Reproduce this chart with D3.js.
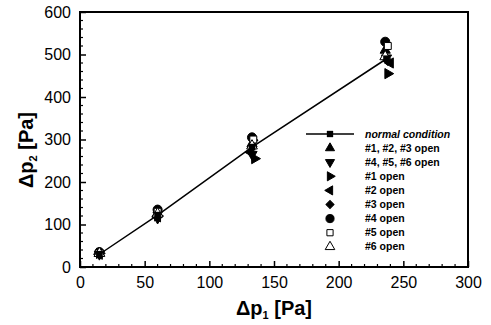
<!DOCTYPE html>
<html>
<head>
<meta charset="utf-8">
<script src="https://cdn.jsdelivr.net/npm/d3@7"></script>
<style>
  body { margin: 0; background: #fff; }
  svg { display: block; font-family: "Liberation Sans", Arial, sans-serif; }
</style>
</head>
<body>
<svg id="chart" width="491" height="325"></svg>
<script>
// data
const dp1Normal = [15, 60, 133, 237];
const dp2Normal = [30, 122, 282, 490];

const seriesNames = ['#1, #2, #3 open', '#4, #5, #6 open', '#1 open', '#2 open',
  '#3 open', '#4 open', '#5 open', '#6 open'];
const seriesX = [
  [15, 60, 133, 236],
  [15, 60, 133, 237],
  [15, 60, 135, 238],
  [15, 60, 132, 240],
  [15, 60, 134, 238],
  [15, 60, 133, 236],
  [15, 60, 134, 238],
  [15, 60, 133, 236]
];
const seriesY = [
  [33, 125, 290, 510],
  [30, 115, 265, 492],
  [32, 120, 255, 455],
  [30, 118, 270, 480],
  [33, 128, 298, 485],
  [35, 135, 305, 530],
  [33, 130, 300, 520],
  [32, 125, 285, 495]
];
const xTicks = [0, 50, 100, 150, 200, 250, 300];
const yTicks = [0, 100, 200, 300, 400, 500, 600];

const svg = d3.select('#chart');
const m = { left: 80, right: 468, top: 12, bottom: 267 };

const x = d3.scaleLinear().domain([0, 300]).range([m.left, m.right]);
const y = d3.scaleLinear().domain([0, 600]).range([m.bottom, m.top]);

// marker shapes
const shapes = [
  { type: d3.symbolTriangle, fill: '#000', rot: 0 },
  { type: d3.symbolTriangle, fill: '#000', rot: 180 },
  { type: d3.symbolTriangle, fill: '#000', rot: 90 },
  { type: d3.symbolTriangle, fill: '#000', rot: -90 },
  { type: d3.symbolSquare, fill: '#000', rot: 45 },
  { type: d3.symbolCircle, fill: '#000', rot: 0 },
  { type: d3.symbolSquare, fill: '#fff', rot: 0 },
  { type: d3.symbolTriangle, fill: '#fff', rot: 0 }
];
const sizes = [45, 45, 45, 45, 40, 65, 48, 50];

// axes (ticks inward)
const xAxis = d3.axisBottom(x).tickValues(xTicks).tickSize(-6).tickPadding(10);
const yAxis = d3.axisLeft(y).tickValues(yTicks).tickSize(-6).tickPadding(9);

const gx = svg.append('g').attr('transform', `translate(0,${m.bottom})`).call(xAxis);
const gy = svg.append('g').attr('transform', `translate(${m.left},0)`).call(yAxis);
[gx, gy].forEach(g => {
  g.select('.domain').remove();
  g.selectAll('line').attr('stroke', '#000').attr('stroke-width', 1.5);
  g.selectAll('text').attr('fill', '#000').style('font-size', '16px');
});

// minor ticks
svg.append('g').selectAll('line')
  .data(d3.range(10, 300, 10).filter(v => v % 50 !== 0))
  .enter().append('line')
  .attr('x1', d => x(d)).attr('x2', d => x(d))
  .attr('y1', m.bottom).attr('y2', m.bottom - 3)
  .attr('stroke', '#000').attr('stroke-width', 1.2);
svg.append('g').selectAll('line')
  .data(d3.range(20, 600, 20).filter(v => v % 100 !== 0))
  .enter().append('line')
  .attr('x1', m.left).attr('x2', m.left + 3)
  .attr('y1', d => y(d)).attr('y2', d => y(d))
  .attr('stroke', '#000').attr('stroke-width', 1.2);

// frame
svg.append('rect')
  .attr('x', m.left).attr('y', m.top)
  .attr('width', m.right - m.left).attr('height', m.bottom - m.top)
  .attr('fill', 'none').attr('stroke', '#000').attr('stroke-width', 2);

// normal condition line
svg.append('path')
  .datum(d3.zip(dp1Normal, dp2Normal))
  .attr('d', d3.line().x(d => x(d[0])).y(d => y(d[1])))
  .attr('fill', 'none').attr('stroke', '#000').attr('stroke-width', 1.5);

const sym = d3.symbol();

seriesNames.forEach((name, i) => {
  const s = shapes[i];
  svg.append('g').selectAll('path')
    .data(d3.zip(seriesX[i], seriesY[i]))
    .enter().append('path')
    .attr('d', sym.type(s.type).size(sizes[i])())
    .attr('transform', d => `translate(${x(d[0])},${y(d[1])}) rotate(${s.rot})`)
    .attr('fill', s.fill).attr('stroke', '#000').attr('stroke-width', 1);
});

svg.append('g').selectAll('path')
  .data(d3.zip(dp1Normal, dp2Normal))
  .enter().append('path')
  .attr('d', sym.type(d3.symbolSquare).size(45)())
  .attr('transform', d => `translate(${x(d[0])},${y(d[1])})`)
  .attr('fill', '#000');

// legend
const legX = 330, legTextX = 365, legY0 = 134, legDy = 14.1;
const leg = svg.append('g');
leg.append('line')
  .attr('x1', legX - 24).attr('x2', legX + 24)
  .attr('y1', legY0).attr('y2', legY0)
  .attr('stroke', '#000').attr('stroke-width', 1.5);
leg.append('path')
  .attr('d', sym.type(d3.symbolSquare).size(40)())
  .attr('transform', `translate(${legX},${legY0})`)
  .attr('fill', '#000');
leg.append('text')
  .attr('x', legTextX).attr('y', legY0 + 3.5)
  .style('font-size', '10.5px').style('font-weight', 'bold').style('font-style', 'italic')
  .text('normal condition');

seriesNames.forEach((name, i) => {
  const s = shapes[i];
  const ly = legY0 + legDy * (i + 1);
  leg.append('path')
    .attr('d', sym.type(s.type).size(sizes[i] * 0.8)())
    .attr('transform', `translate(${legX},${ly}) rotate(${s.rot})`)
    .attr('fill', s.fill).attr('stroke', '#000').attr('stroke-width', 1);
  leg.append('text')
    .attr('x', legTextX).attr('y', ly + 3.5)
    .style('font-size', '10.5px').style('font-weight', 'bold')
    .text(name);
});

// axis titles
const xt = svg.append('text')
  .attr('x', 274).attr('y', 315)
  .attr('text-anchor', 'middle')
  .style('font-size', '20px').style('font-weight', 'bold');
xt.append('tspan').text('Δp');
xt.append('tspan').attr('dy', 4).style('font-size', '11px').text('1');
xt.append('tspan').attr('dy', -4).text(' [Pa]');

const yt = svg.append('text')
  .attr('transform', 'translate(33,150) rotate(-90)')
  .attr('text-anchor', 'middle')
  .style('font-size', '20px').style('font-weight', 'bold');
yt.append('tspan').text('Δp');
yt.append('tspan').attr('dy', 4).style('font-size', '11px').text('2');
yt.append('tspan').attr('dy', -4).text(' [Pa]');
</script>
</body>
</html>
